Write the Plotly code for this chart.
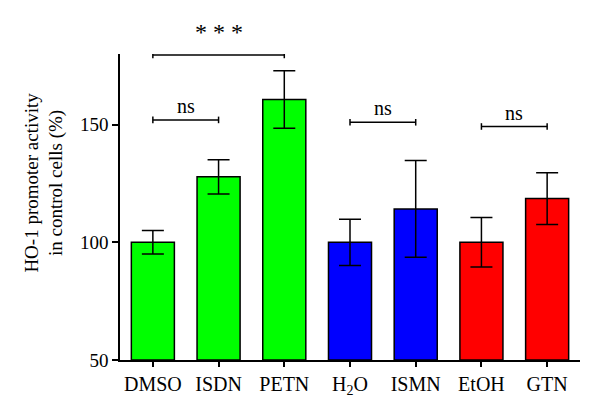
import plotly.graph_objects as go

categories = ["DMSO", "ISDN", "PETN", "H<sub>2</sub>O", "ISMN", "EtOH", "GTN"]
values = [100, 127.8, 160.7, 100, 114.2, 100, 118.6]
errors = [5, 7.3, 12.2, 9.8, 20.6, 10.5, 11]
colors = ["#00ff00", "#00ff00", "#00ff00", "#0000ff", "#0000ff", "#ff0000", "#ff0000"]
y_ticks = [50, 100, 150]
# brackets: (from index, to index, y level, label)
brackets = [(0, 2, 179.6, "* * *"), (0, 1, 152, "ns"), (3, 4, 151, "ns"), (5, 6, 149.2, "ns")]

FONT = "Liberation Serif, Times New Roman, serif"

fig = go.Figure()
fig.add_trace(go.Bar(
    x=list(range(len(categories))), y=[v - 50 for v in values], base=50,
    marker=dict(color=colors, line=dict(color="black", width=1.5)),
    width=0.655,
    error_y=dict(type="data", array=errors, color="black", thickness=1.5, width=11),
    showlegend=False,
))

shapes = []
annotations = []
for i, j, yv, lab in brackets:
    shapes.append(dict(type="line", xref="x", yref="y", x0=i, x1=j, y0=yv, y1=yv,
                       line=dict(color="black", width=1.5)))
    for xe in (i, j):
        shapes.append(dict(type="line", xref="x", yref="y", x0=xe, x1=xe, y0=yv - 1.4, y1=yv + 1.4,
                           line=dict(color="black", width=1.5)))
    star = lab != "ns"
    annotations.append(dict(x=(i + j) / 2, y=yv, xref="x", yref="y", text=lab, showarrow=False,
                            yanchor="bottom", yshift=8 if star else 1,
                            font=dict(family=FONT, size=24 if star else 20, color="black")))

annotations.append(dict(x=-0.165, y=0.58, xref="paper", yref="paper",
                        text="HO-1 promoter activity<br>in control cells (%)",
                        textangle=-90, showarrow=False, xanchor="center", yanchor="middle",
                        font=dict(family=FONT, size=19, color="black")))

fig.update_layout(
    width=600, height=414,
    margin=dict(l=112, r=28, t=46, b=62),
    plot_bgcolor="white", paper_bgcolor="white",
    shapes=shapes, annotations=annotations,
    font=dict(family=FONT, color="black"),
    xaxis=dict(
        tickmode="array", tickvals=list(range(len(categories))), ticktext=categories,
        range=[-0.5, len(categories) - 0.5],
        showline=True, linecolor="black", linewidth=1.5,
        ticks="outside", ticklen=5, tickwidth=1.5, tickcolor="black",
        showgrid=False, zeroline=False,
        tickfont=dict(family=FONT, size=20, color="black"),
    ),
    yaxis=dict(
        range=[50, 180], tickvals=y_ticks,
        showline=True, linecolor="black", linewidth=1.5,
        ticks="outside", ticklen=6, tickwidth=1.5, tickcolor="black",
        showgrid=False, zeroline=False,
        tickfont=dict(family=FONT, size=19, color="black"),
    ),
)

fig.write_html("out.html")
